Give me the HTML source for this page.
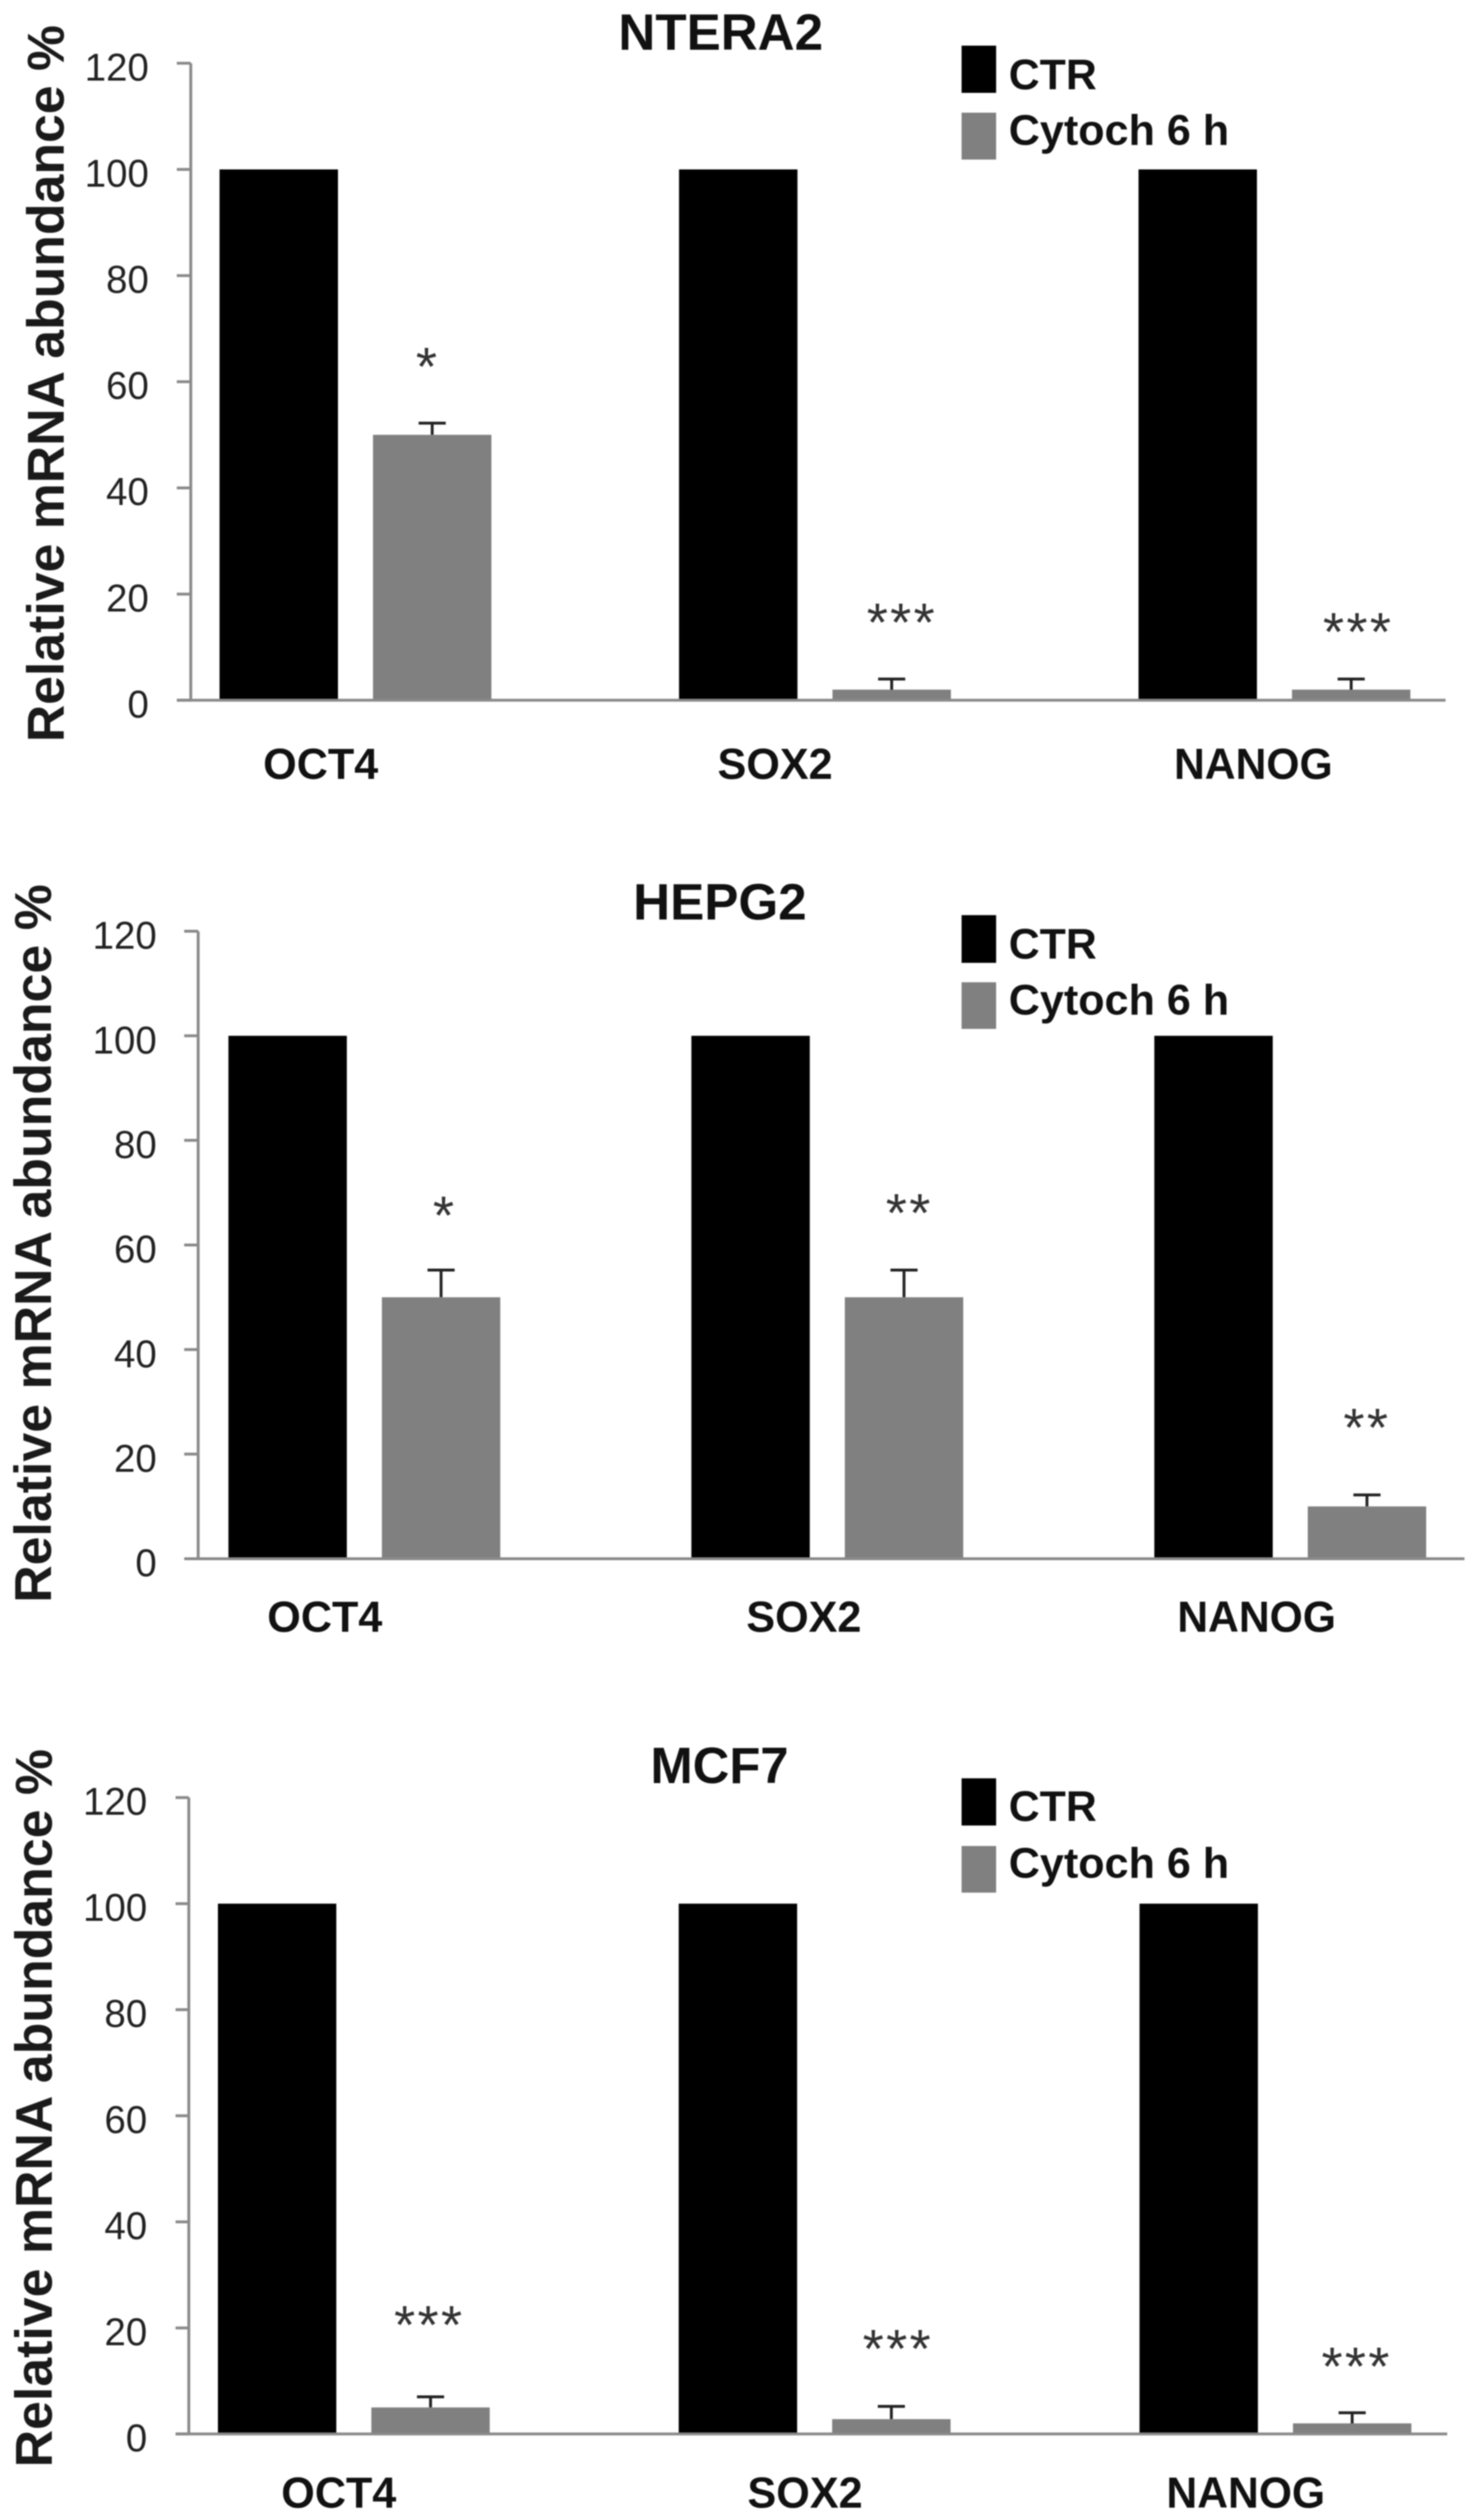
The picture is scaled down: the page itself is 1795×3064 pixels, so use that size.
<!DOCTYPE html>
<html lang="en">
<head>
<meta charset="utf-8">
<title>Relative mRNA abundance: NTERA2, HEPG2, MCF7</title>
<style>
html,body{margin:0;padding:0;background:#fff;width:1795px;height:3064px;overflow:hidden}
svg{display:block;filter:blur(.7px)}
text{font-family:"Liberation Sans",sans-serif}
.title{font-size:62px;font-weight:700;fill:#111}
.ytitle{font-size:63px;font-weight:700;fill:#1a1a1a}
.legend{font-size:52px;font-weight:700;fill:#111}
.tick{font-size:47px;fill:#222}
.cat{font-size:53px;font-weight:700;fill:#111}
.sig{font-size:66px;fill:#333;text-anchor:middle;letter-spacing:2.8px}
</style>
</head>
<body>
<svg id="fig" xmlns="http://www.w3.org/2000/svg" width="1795" height="3064" viewBox="0 0 1795 3064">
  <rect width="1795" height="3064" fill="#fff"/>

  <g id="panel-0">
    <text class="title" x="752" y="60.6" textLength="249" lengthAdjust="spacingAndGlyphs">NTERA2</text>
    <text class="ytitle" transform="translate(77.5,902.4) rotate(-90)" textLength="872" lengthAdjust="spacingAndGlyphs">Relative mRNA abundance %</text>
    <rect x="1169.4" y="55.5" width="42" height="57.4" fill="#000"/>
    <rect x="1169.4" y="137" width="42" height="57" fill="#808080"/>
    <text class="legend" x="1226.8" y="108.3" textLength="107" lengthAdjust="spacingAndGlyphs">CTR</text>
    <text class="legend" x="1226.8" y="176" textLength="268" lengthAdjust="spacingAndGlyphs">Cytoch 6 h</text>
  </g>

  <g id="panel-1">
    <text class="title" x="770" y="1117.8" textLength="211" lengthAdjust="spacingAndGlyphs">HEPG2</text>
    <text class="ytitle" transform="translate(62,1948.8) rotate(-90)" textLength="873.7" lengthAdjust="spacingAndGlyphs">Relative mRNA abundance %</text>
    <rect x="1169.4" y="1112.7" width="42" height="58" fill="#000"/>
    <rect x="1169.4" y="1194.3" width="42" height="56.7" fill="#808080"/>
    <text class="legend" x="1226.8" y="1165.3" textLength="107" lengthAdjust="spacingAndGlyphs">CTR</text>
    <text class="legend" x="1226.8" y="1233.5" textLength="268" lengthAdjust="spacingAndGlyphs">Cytoch 6 h</text>
  </g>

  <g id="panel-2">
    <text class="title" x="791" y="2168" textLength="168" lengthAdjust="spacingAndGlyphs">MCF7</text>
    <text class="ytitle" transform="translate(63,3000) rotate(-90)" textLength="873.5" lengthAdjust="spacingAndGlyphs">Relative mRNA abundance %</text>
    <rect x="1169.4" y="2162.2" width="42" height="57.4" fill="#000"/>
    <rect x="1169.4" y="2244.5" width="42" height="56.7" fill="#808080"/>
    <text class="legend" x="1226.8" y="2214" textLength="107" lengthAdjust="spacingAndGlyphs">CTR</text>
    <text class="legend" x="1226.8" y="2283" textLength="268" lengthAdjust="spacingAndGlyphs">Cytoch 6 h</text>
  </g>
</svg>

<script>
// ---- chart data ----
const panelNames = ["ntera2", "hepg2", "mcf7"];
const categories = ["OCT4", "SOX2", "NANOG"];
const tickValues = [0, 20, 40, 60, 80, 100, 120];
const tickLabels = ["0", "20", "40", "60", "80", "100", "120"];

const ctrNtera2 = [100, 100, 100];
const ctrHepg2 = [100, 100, 100];
const ctrMcf7 = [100, 100, 100];

const cytochNtera2 = [50, 2, 2];
const cytochHepg2 = [50, 50, 10];
const cytochMcf7 = [5, 2.8, 2];

const errNtera2 = [2.2, 2, 2];
const errHepg2 = [5.2, 5.2, 2.2];
const errMcf7 = [2, 2.4, 2];

const sigNtera2 = ["*", "***", "***"];
const sigHepg2 = ["*", "**", "**"];
const sigMcf7 = ["***", "***", "***"];

// height of each significance mark, in axis units
const sigLevelNtera2 = [64, 15.8, 14];
const sigLevelHepg2 = [66.8, 67.3, 26.2];
const sigLevelMcf7 = [21.7, 17.2, 13.9];

const ctrSeries = [ctrNtera2, ctrHepg2, ctrMcf7];
const cytochSeries = [cytochNtera2, cytochHepg2, cytochMcf7];
const errSeries = [errNtera2, errHepg2, errMcf7];
const sigSeries = [sigNtera2, sigHepg2, sigMcf7];
const sigLevels = [sigLevelNtera2, sigLevelHepg2, sigLevelMcf7];

// ---- panel geometry (not data) ----
function panelLayout(i) {
  if (i === 0) return {axisX: 232, tickX: 215, right: 1758, y0: 851.4, unit: 6.454, barX0: 267, step: 558.8, tickRight: 181, tickDy: 21, catBase: 947, catX: [320, 872.6, 1427.7], sigDx: [-7, 11, 7]};
  if (i === 1) return {axisX: 241, tickX: 224, right: 1781, y0: 1895.2, unit: 6.358, barX0: 277.8, step: 563, tickRight: 190.6, tickDy: 21.5, catBase: 1983.9, catX: [325, 907.6, 1431.7], sigDx: [3, 5, -1.5]};
  return {axisX: 229.6, tickX: 213.5, right: 1760, y0: 2959.4, unit: 6.448, barX0: 265, step: 560.4, tickRight: 179, tickDy: 21, catBase: 3049, catX: [342, 909, 1418.5], sigDx: [-3, 6.5, 4]};
}

const SVGNS = "http://www.w3.org/2000/svg";
function make(tag, attrs, parent) {
  const el = document.createElementNS(SVGNS, tag);
  for (const k in attrs) el.setAttribute(k, attrs[k]);
  parent.appendChild(el);
  return el;
}

const BAR_W = 144;
const GRAY_OFFSET = 186.6;
const AXIS = "#8a8a8a";

panelNames.forEach(function (pname, p) {
  const L = panelLayout(p);
  const g = document.getElementById("panel-" + p);
  const yScale = function (v) { return L.y0 - v * L.unit; };
  const xScale = function (c) { return L.barX0 + L.step * c; };

  categories.forEach(function (cat, c) {
    const ctrBar = make("rect", {x: xScale(c), y: yScale(ctrSeries[p][c]), width: BAR_W, height: L.y0 - yScale(ctrSeries[p][c]), fill: "#000"}, g);
    
    

    const gx = xScale(c) + GRAY_OFFSET;
    const cx = gx + BAR_W / 2;
    const val = cytochSeries[p][c];
    const top = yScale(val + errSeries[p][c]);

    const errStem = make("line", {x1: cx, x2: cx, y1: yScale(val), y2: top, stroke: "#222", "stroke-width": 3.5}, g);
    
    

    const errCap = make("line", {x1: cx - 16.5, x2: cx + 16.5, y1: top, y2: top, stroke: "#222", "stroke-width": 3.5}, g);
    
    

    const grayBar = make("rect", {x: gx, y: yScale(val), width: BAR_W, height: L.y0 - yScale(val), fill: "#808080"}, g);
    
    

    const sig = make("text", {"class": "sig", x: cx + L.sigDx[c] + 1.4, y: yScale(sigLevels[p][c]) + 30}, g);
    sig.textContent = sigSeries[p][c];
    
    

    const label = make("text", {"class": "cat", x: L.catX[c], y: L.catBase, textLength: cat.length === 5 ? 193 : 140, lengthAdjust: "spacingAndGlyphs"}, g);
    label.textContent = cat;
    
    
  });

  const yAxis = make("line", {x1: L.axisX, x2: L.axisX, y1: yScale(tickValues[tickValues.length - 1]), y2: L.y0, stroke: AXIS, "stroke-width": 3.5}, g);
  
  

  const xAxis = make("line", {x1: L.tickX, x2: L.right, y1: L.y0, y2: L.y0, stroke: AXIS, "stroke-width": 3.5}, g);
  
  

  tickValues.forEach(function (v, t) {
    const y = yScale(v);
    const mark = make("line", {x1: L.tickX, x2: L.axisX, y1: y, y2: y, stroke: AXIS, "stroke-width": 3.5}, g);
    
    

    const w = tickLabels[t].length * 26;
    const txt = make("text", {"class": "tick", x: L.tickRight - w, y: y + L.tickDy, textLength: w, lengthAdjust: "spacingAndGlyphs"}, g);
    txt.textContent = tickLabels[t];
    
    
  });
});
</script>
</body>
</html>
